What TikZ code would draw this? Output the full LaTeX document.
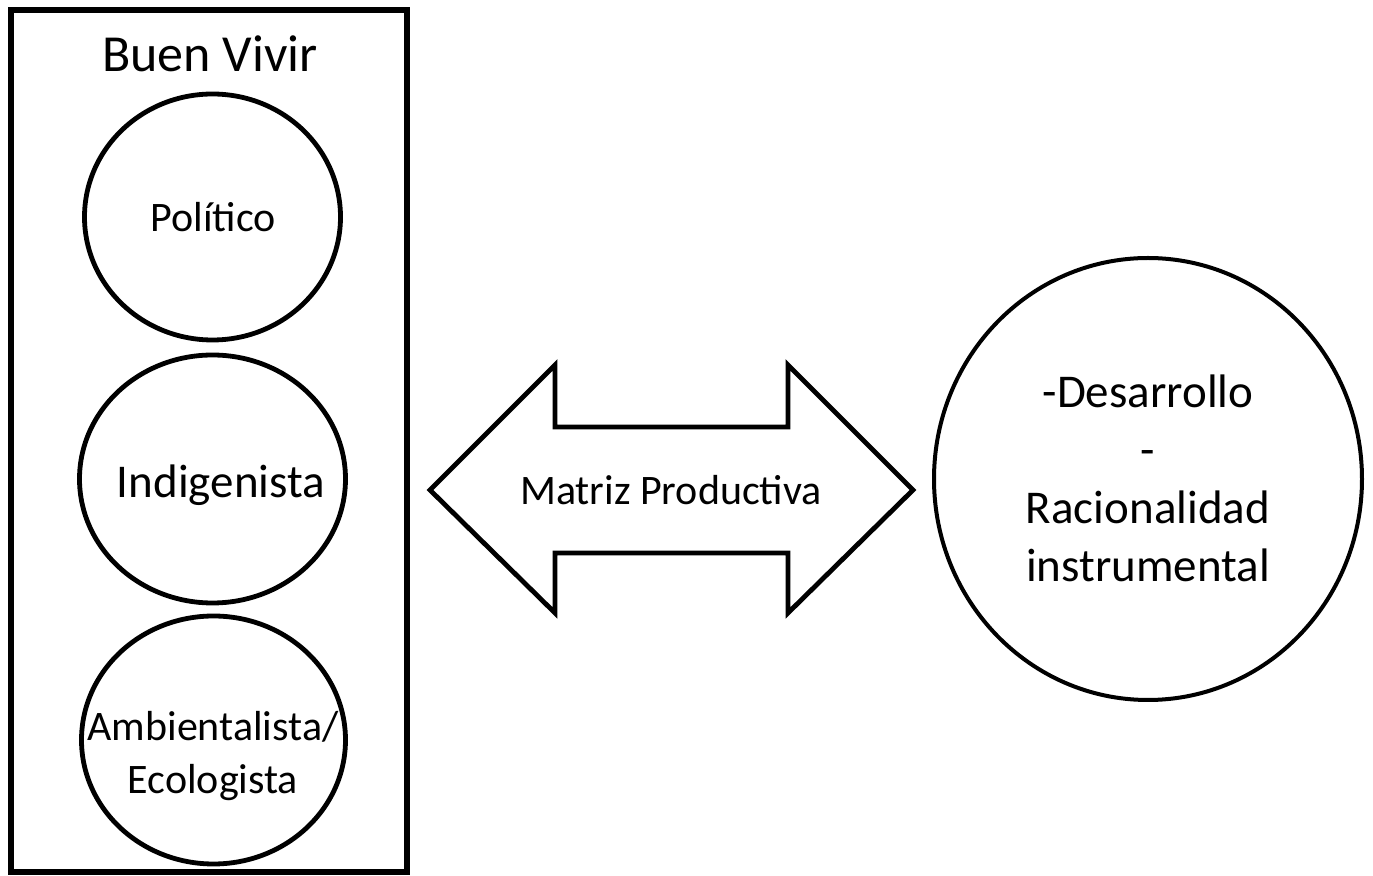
\documentclass[tikz,border=0pt]{standalone}
\usepackage{fontspec}
\setmainfont{Carlito}
\begin{document}
\begin{tikzpicture}[x=0.5pt,y=-0.5pt, line join=miter,
	label21/.style={font=\fontsize{21}{26.5}\selectfont, align=center, inner sep=0pt},
	label23/.style={font=\fontsize{23.5}{29}\selectfont, align=center, inner sep=0pt},
	ring/.style={line width=2.4pt}]
	\useasboundingbox (0,0) rectangle (1373,876);
	% caja Buen Vivir
	\draw[line width=2.6pt] (11,10) rectangle (407,872);
	\node[font=\fontsize{26}{31}\selectfont, inner sep=0pt, anchor=base] (buen) at (210,72) {Buen Vivir};
	\draw[ring] (212.5,217) ellipse [x radius=128, y radius=123];
	\draw[ring] (212.5,479) ellipse [x radius=133, y radius=124];
	\draw[ring] (213.5,740) ellipse [x radius=132, y radius=124];
	\node[label21, anchor=base] (pol) at (213,232) {Político};
	\node[label23, anchor=base] (ind) at (221,498) {Indigenista};
	\node[label21] (amb) at (213,756) {Ambientalista/\\Ecologista};
	% flecha doble
	\coordinate (L)at(430,490);
	\coordinate (LT)at(555,365);
	\coordinate (LS)at(555,427);
	\coordinate (RS)at(788,427);
	\coordinate (RT)at(788,365);
	\coordinate (R)at(913,490);
	\coordinate (RB)at(788,613);
	\coordinate (RI)at(788,553);
	\coordinate (LI)at(555,553);
	\coordinate (LB)at(555,613);
	\draw[line width=2.4pt] (L)--(LT)--(LS)--(RS)--(RT)--(R)--(RB)--(RI)--(LI)--(LB)--cycle;
	\node[label21, anchor=base] (matriz) at (671,505) {Matriz Productiva};
	% circulo derecho
	\draw[line width=2pt] (1148,479) ellipse [x radius=214, y radius=221];
	\node[label23] (des) at (1148,478) {-Desarrollo\\-\\Racionalidad\\instrumental};
\end{tikzpicture}
\end{document}
